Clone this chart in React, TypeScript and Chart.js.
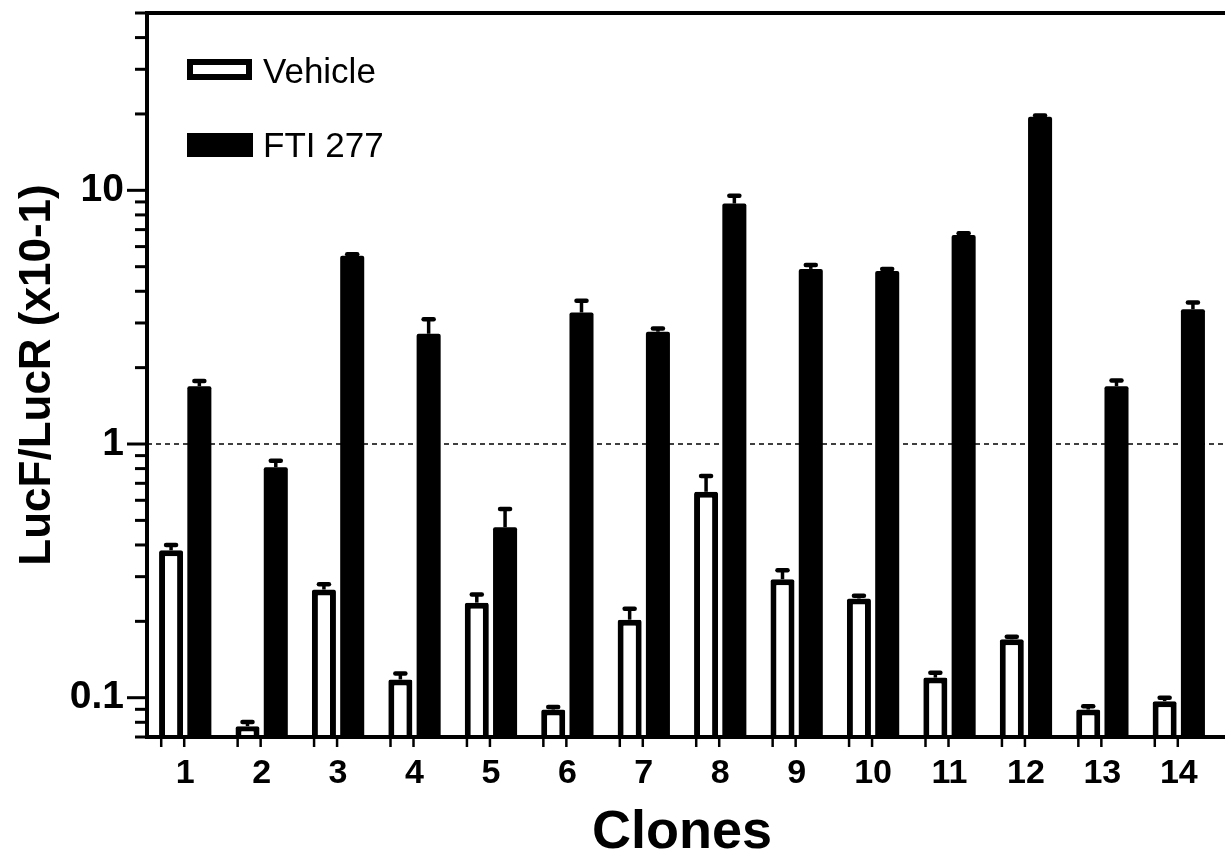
import React, { useEffect, useRef } from 'react';
import { Chart, registerables } from 'chart.js';

Chart.register(...registerables);

// ---- data ----
const categories = ['1', '2', '3', '4', '5', '6', '7', '8', '9', '10', '11', '12', '13', '14'];
const vehicleMeans = [0.381, 0.0772, 0.267, 0.118, 0.237, 0.0898, 0.203, 0.648, 0.293, 0.246, 0.12, 0.17, 0.0898, 0.0969];
const vehicleSem = [0.019, 0.003, 0.013, 0.0065, 0.018, 0.0022, 0.021, 0.1, 0.025, 0.006, 0.0054, 0.004, 0.0027, 0.0031];
const ftiMeans = [1.69, 0.81, 5.52, 2.72, 0.47, 3.3, 2.77, 8.87, 4.9, 4.81, 6.66, 19.5, 1.69, 3.4];
const ftiSem = [0.08, 0.05, 0.08, 0.38, 0.085, 0.37, 0.08, 0.64, 0.18, 0.09, 0.12, 0.2, 0.09, 0.21];
const seriesLabels = ['Vehicle', 'FTI 277'];
const yMajorTicks = [0.1, 1, 10];
const yMinorTicks = [0.07, 0.08, 0.09, 0.2, 0.3, 0.4, 0.5, 0.6, 0.7, 0.8, 0.9, 2, 3, 4, 5, 6, 7, 8, 9, 20, 30, 40, 50];
const yMin = 0.07;
const yMax = 50;
const referenceLine = 1;
const yTitle = 'LucF/LucR (x10-1)';
const xTitle = 'Clones';

const FONT = "'Liberation Sans', Arial, Helvetica, sans-serif";

const decorPlugin = {
  id: 'decor',
  beforeDatasetsDraw(chart: any) {
    const { ctx, chartArea } = chart;
    const y = chart.scales.y;
    const py = y.getPixelForValue(referenceLine);
    ctx.save();
    ctx.strokeStyle = '#000';
    ctx.lineWidth = 1.5;
    ctx.setLineDash([5, 4]);
    ctx.beginPath();
    ctx.moveTo(chartArea.left, py);
    ctx.lineTo(chart.width, py);
    ctx.stroke();
    ctx.restore();
  },
  afterDatasetsDraw(chart: any) {
    const { ctx } = chart;
    const y = chart.scales.y;
    chart.data.datasets.forEach((ds: any, di: number) => {
      const meta = chart.getDatasetMeta(di);
      meta.data.forEach((bar: any, i: number) => {
        const v = ds.data[i];
        const e = ds.errors[i];
        const base = y.getPixelForValue(v);
        const top = y.getPixelForValue(v + e);
        ctx.save();
        ctx.strokeStyle = '#000';
        ctx.lineWidth = 3.5;
        ctx.beginPath();
        ctx.moveTo(bar.x, base);
        ctx.lineTo(bar.x, top);
        ctx.stroke();
        ctx.lineWidth = 4.5;
        ctx.lineCap = 'round';
        ctx.beginPath();
        ctx.moveTo(bar.x - 5, top);
        ctx.lineTo(bar.x + 5, top);
        ctx.stroke();
        ctx.restore();
      });
    });
  },
  afterDraw(chart: any) {
    const { ctx, chartArea } = chart;
    const y = chart.scales.y;
    const x = chart.scales.x;
    ctx.save();
    ctx.strokeStyle = '#000';
    ctx.fillStyle = '#000';
    ctx.lineCap = 'butt';
    // frame
    ctx.lineWidth = 4;
    ctx.beginPath();
    ctx.moveTo(chartArea.left, chartArea.top);
    ctx.lineTo(chartArea.left, chartArea.bottom + 2);
    ctx.moveTo(chartArea.left - 2, chartArea.top);
    ctx.lineTo(chart.width, chartArea.top);
    ctx.moveTo(chartArea.left - 2, chartArea.bottom);
    ctx.lineTo(chart.width, chartArea.bottom);
    ctx.stroke();
    // y ticks
    ctx.lineWidth = 3;
    yMajorTicks.forEach((t) => {
      const p = y.getPixelForValue(t);
      ctx.beginPath();
      ctx.moveTo(chartArea.left - 20, p);
      ctx.lineTo(chartArea.left, p);
      ctx.stroke();
    });
    yMinorTicks.forEach((t) => {
      const p = y.getPixelForValue(t);
      ctx.beginPath();
      ctx.moveTo(chartArea.left - 12, p);
      ctx.lineTo(chartArea.left, p);
      ctx.stroke();
    });
    // x ticks
    ctx.lineWidth = 2.5;
    categories.forEach((_, i) => {
      const p = x.getPixelForValue(i);
      [p - 1, p - 24].forEach((q) => {
        ctx.beginPath();
        ctx.moveTo(q, chartArea.bottom);
        ctx.lineTo(q, chartArea.bottom + 10);
        ctx.stroke();
      });
    });
    // legend
    const lx = chartArea.left + 40;
    const ds0 = chart.data.datasets[0];
    const ds1 = chart.data.datasets[1];
    ctx.lineWidth = 6;
    ctx.strokeStyle = ds0.borderColor;
    ctx.fillStyle = ds0.backgroundColor;
    ctx.fillRect(lx + 3, 62, 59, 15);
    ctx.strokeRect(lx + 3, 62, 59, 15);
    ctx.fillStyle = ds1.backgroundColor;
    ctx.fillRect(lx, 133, 66, 24);
    ctx.fillStyle = '#000';
    ctx.font = `35px ${FONT}`;
    ctx.textBaseline = 'alphabetic';
    ctx.textAlign = 'left';
    ctx.fillText(ds0.label, lx + 76, 83);
    ctx.fillText(ds1.label, lx + 76, 157);
    ctx.restore();
  },
};

export default function App() {
  const ref = useRef<HTMLCanvasElement | null>(null);
  useEffect(() => {
    if (!ref.current) return;
    const chart = new Chart(ref.current, {
      type: 'bar',
      data: {
        labels: categories,
        datasets: [
          {
            label: seriesLabels[0],
            data: vehicleMeans,
            errors: vehicleSem,
            backgroundColor: '#ffffff',
            borderColor: '#000000',
            borderWidth: 6,
            borderSkipped: 'start',
            borderRadius: 2,
            categoryPercentage: 0.74,
            barPercentage: 0.85,
          } as any,
          {
            label: seriesLabels[1],
            data: ftiMeans,
            errors: ftiSem,
            backgroundColor: '#000000',
            borderColor: '#000000',
            borderWidth: 0,
            borderRadius: 2,
            categoryPercentage: 0.74,
            barPercentage: 0.85,
          } as any,
        ],
      },
      options: {
        responsive: false,
        animation: false,
        devicePixelRatio: 1,
        layout: { padding: { top: 13, right: 8, left: 0, bottom: 0 } },
        plugins: { legend: { display: false }, tooltip: { enabled: false } },
        scales: {
          x: {
            afterFit: (s: any) => {
              s.height = 124;
              s.paddingLeft = 0;
              s.paddingRight = 0;
            },
            grid: { display: true, drawOnChartArea: false, drawTicks: true, tickLength: 10, tickColor: 'rgba(0,0,0,0)', offset: false },
            border: { display: false },
            ticks: { color: '#000', font: { family: FONT, size: 34, weight: 'bold' }, padding: 6, maxRotation: 0, autoSkip: false },
            title: { display: true, text: xTitle, color: '#000', font: { family: FONT, size: 54, weight: 'bold' }, padding: { top: 0, bottom: -5 } },
          },
          y: {
            type: 'logarithmic',
            min: yMin,
            max: yMax,
            afterFit: (s: any) => {
              s.width = 147;
              s.paddingTop = 0;
              s.paddingBottom = 0;
            },
            afterBuildTicks: (s: any) => {
              const all = [...yMinorTicks, ...yMajorTicks].sort((a, b) => a - b);
              s.ticks = all.map((v) => ({ value: v, major: yMajorTicks.includes(v) }));
            },
            grid: { display: true, drawOnChartArea: false, drawTicks: true, tickLength: 20, tickColor: 'rgba(0,0,0,0)' },
            border: { display: false },
            ticks: {
              color: '#000',
              autoSkip: false,
              padding: 3,
              font: { family: FONT, size: 39, weight: 'bold' },
              callback: (v: any) => (yMajorTicks.includes(Number(v)) ? String(v) : ''),
            },
            title: { display: true, text: yTitle, color: '#000', font: { family: FONT, size: 44, weight: 'bold' }, padding: { top: 11, bottom: 0 } },
          },
        },
      } as any,
      plugins: [decorPlugin],
    });
    return () => chart.destroy();
  }, []);
  return (
    <div style={{ position: 'fixed', left: 0, top: 0, width: 1225, height: 861, background: '#fff' }}>
      <canvas ref={ref} width={1225} height={861} style={{ display: 'block' }} />
    </div>
  );
}
